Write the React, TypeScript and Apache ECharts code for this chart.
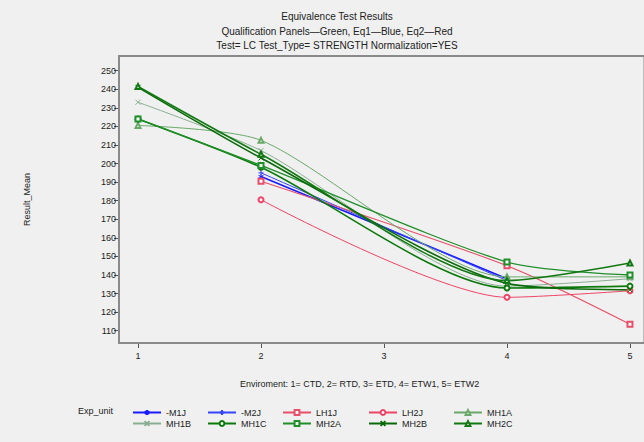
import React, { useEffect, useRef } from "react";
import * as echarts from "echarts";

const envX = [1, 2, 4, 5];
const xTicks = [1, 2, 3, 4, 5];
const yTicks = [110, 120, 130, 140, 150, 160, 170, 180, 190, 200, 210, 220, 230, 240, 250];

const m1j = [null, 193, 138, null];
const m2j = [null, 195, 137, null];
const lh1j = [null, 190.5, 145, 113.5];
const lh2j = [null, 180.5, 128, 131.5];
const mh1a = [220.5, 212.5, 139, 139];
const mh1b = [233, 207, 134, 138];
const mh1c = [224, 198, 133, 134];
const mh2a = [224, 199, 147, 140];
const mh2b = [241, 203, 135.5, 132];
const mh2c = [241.5, 205, 137, 146.5];

const seriesNames = ["-M1J", "-M2J", "LH1J", "LH2J", "MH1A", "MH1B", "MH1C", "MH2A", "MH2B", "MH2C"];
const seriesValues = [m1j, m2j, lh1j, lh2j, mh1a, mh1b, mh1c, mh2a, mh2b, mh2c];

const STAR = "path://M0,-1L0,1M-0.87,-0.5L0.87,0.5M-0.87,0.5L0.87,-0.5";
const PLUS = "path://M0,-1L0,1M-1,0L1,0";
const CROSS = "path://M-1,-1L1,1M-1,1L1,-1";

const styles = [
  { color: "#1a1aff", width: 1.6, symbol: STAR },
  { color: "#3344ff", width: 1, symbol: PLUS },
  { color: "#e8506a", width: 1.1, symbol: "emptyRect" },
  { color: "#ee4466", width: 1, symbol: "emptyCircle" },
  { color: "#6aa86a", width: 1, symbol: "emptyTriangle" },
  { color: "#8aae92", width: 1, symbol: CROSS },
  { color: "#0b7a0b", width: 1.6, symbol: "emptyCircle" },
  { color: "#1f8f2a", width: 1.3, symbol: "emptyRect" },
  { color: "#0a6a0a", width: 1.6, symbol: CROSS },
  { color: "#127812", width: 1.6, symbol: "emptyTriangle" },
];

const legendCols = [132, 207, 282, 368, 453];
const legendRows = [408, 419];

export default function App() {
  const ref = useRef<HTMLDivElement>(null);
  useEffect(() => {
    document.body.style.margin = "0";
    const chart = echarts.init(ref.current!, null, { renderer: "svg" });
    const font = "'Liberation Sans', Arial, sans-serif";
    const series = seriesNames.map((name, i) => {
      const st = styles[i];
      return {
        name,
        type: "line",
        smooth: 0.25,
        data: envX
          .map((x, j) => [x, seriesValues[i][j]])
          .filter((d) => d[1] !== null),
        symbol: st.symbol,
        symbolSize: 5,
        showAllSymbol: true,
        lineStyle: { color: st.color, width: st.width },
        itemStyle: { color: st.color, borderColor: st.color, borderWidth: 1 },
        emphasis: { disabled: true },
      };
    });
    const legends = seriesNames.map((name, i) => ({
      data: [name],
      left: legendCols[i % 5],
      top: legendRows[Math.floor(i / 5)],
      itemWidth: 28,
      itemHeight: 6,
      itemGap: 4,
      padding: 0,
      textStyle: { fontSize: 9, color: "#222", fontFamily: font },
      selectedMode: false,
    }));
    chart.setOption({
      animation: false,
      backgroundColor: "#f0f0f0",
      textStyle: { fontFamily: font },
      title: [
        { text: "Equivalence Test Results", left: 332, top: 6, textAlign: "center", textStyle: { fontSize: 10, fontWeight: "normal", color: "#222" } },
        { text: "Qualification Panels—Green, Eq1—Blue, Eq2—Red", left: 332, top: 21, textAlign: "center", textStyle: { fontSize: 10, fontWeight: "normal", color: "#222" } },
        { text: "Test= LC Test_Type= STRENGTH Normalization=YES", left: 332, top: 35, textAlign: "center", textStyle: { fontSize: 10, fontWeight: "normal", color: "#222" } },
      ],
      legend: legends,
      graphic: {
        elements: [
          { type: "rect", silent: true, z: 100, shape: { x: 118, y: 55, width: 526, height: 2 }, style: { fill: "#8a8a8a" } },
          { type: "rect", silent: true, z: 100, shape: { x: 118, y: 55, width: 2, height: 289 }, style: { fill: "#8a8a8a" } },
          { type: "rect", silent: true, z: 100, shape: { x: 118, y: 342, width: 526, height: 2 }, style: { fill: "#8a8a8a" } },
          { type: "text", left: 78, top: 406, style: { text: "Exp_unit", fontSize: 9, fill: "#222", fontFamily: font } },
          { type: "text", left: 240, top: 379, style: { text: "Enviroment: 1= CTD, 2= RTD, 3= ETD, 4= ETW1, 5= ETW2", fontSize: 9, fill: "#222", fontFamily: font } },
        ],
      },
      grid: { left: 119, top: 56, right: 0, bottom: 99, show: true, borderColor: "#8a8a8a", borderWidth: 1 },
      xAxis: {
        type: "value",
        min: 0.8455,
        max: 5.114,
        axisLine: { show: false },
        splitLine: { show: false },
        axisTick: { show: true, customValues: xTicks, length: 5, lineStyle: { color: "#555" } },
        axisLabel: { customValues: xTicks, fontSize: 9, color: "#222", margin: 8 },
      },
      yAxis: {
        type: "value",
        min: 103.4,
        max: 257.9,
        name: "Result_Mean",
        nameLocation: "middle",
        nameRotate: 90,
        nameGap: 88,
        nameTextStyle: { fontSize: 9, color: "#222" },
        axisLine: { show: false },
        splitLine: { show: false },
        axisTick: { show: true, customValues: yTicks, length: 5, lineStyle: { color: "#555" } },
        axisLabel: { customValues: yTicks, fontSize: 9, color: "#222", margin: 3 },
      },
      series,
    });
    return () => chart.dispose();
  }, []);
  return <div ref={ref} style={{ width: 644, height: 442 }} />;
}
